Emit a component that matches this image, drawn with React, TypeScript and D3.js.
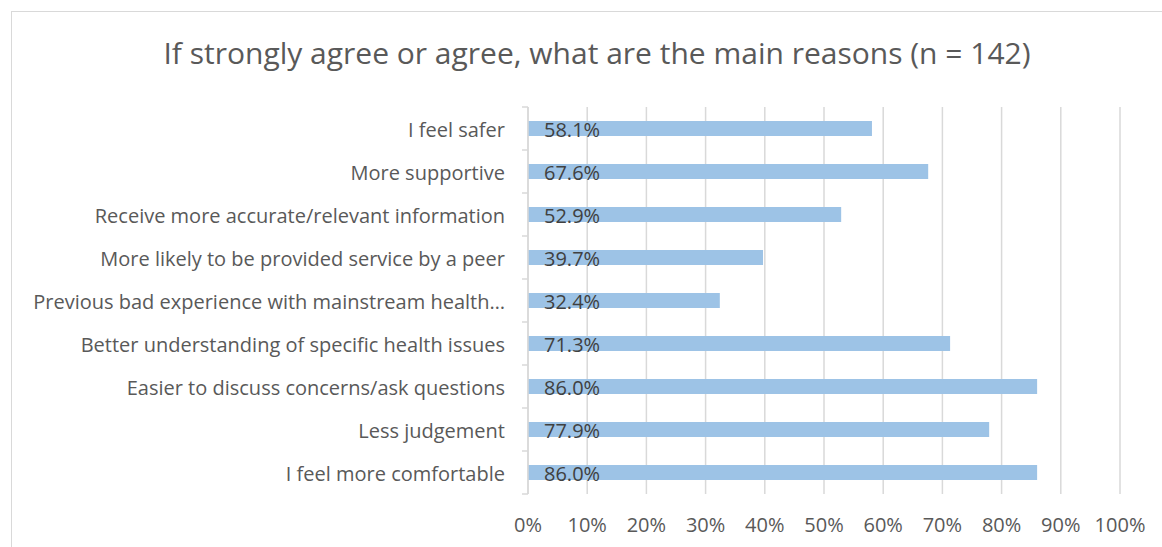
import React from "react";
import * as d3 from "d3";

const categories = [
  "I feel safer",
  "More supportive",
  "Receive more accurate/relevant information",
  "More likely to be provided service by a peer",
  "Previous bad experience with mainstream health…",
  "Better understanding of specific health issues",
  "Easier to discuss concerns/ask questions",
  "Less judgement",
  "I feel more comfortable",
];
const values = [58.1, 67.6, 52.9, 39.7, 32.4, 71.3, 86.0, 77.9, 86.0];
const ticks = [0, 10, 20, 30, 40, 50, 60, 70, 80, 90, 100];
const title = "If strongly agree or agree, what are the main reasons (n = 142)";

const W = 1162;
const H = 547;
const FONT = "'Open Sans', sans-serif";

export default function App() {
  const x = d3.scaleLinear().domain([0, 100]).range([528, 1120]);
  const y = d3.scaleBand<string>().domain(categories).range([107, 494]).paddingInner(0).paddingOuter(0);
  const bh = 15;
  return (
    <div style={{ position: "absolute", left: 0, top: 0 }}>
      <svg width={W} height={H} style={{ display: "block", background: "#fff" }}>
        <rect x={11.5} y={11.5} width={W + 20} height={H + 20} fill="#fff" stroke="#d9d9d9" strokeWidth={1} />
        <text x={597} y={64} textAnchor="middle" fontFamily={FONT} fontSize={30} fill="#595959">
          {title}
        </text>
        {ticks.map((t) => (
          <line key={"g" + t} x1={x(t)} x2={x(t)} y1={107} y2={494} stroke="#d9d9d9" strokeWidth={1.5} />
        ))}
        {categories.map((c, i) => (
          <rect key={"b" + i} x={x(0)} y={y(c)! + y.bandwidth() / 2 - bh / 2} width={x(values[i]) - x(0)} height={bh} fill="#9dc3e6" />
        ))}
        <line x1={x(0)} x2={x(0)} y1={107} y2={494} stroke="#d9d9d9" strokeWidth={1.5} />
        {d3.range(categories.length + 1).map((k) => (
          <line key={"t" + k} x1={x(0) - 6} x2={x(0)} y1={107 + k * y.step()} y2={107 + k * y.step()} stroke="#d9d9d9" strokeWidth={1.5} />
        ))}
        {categories.map((c, i) => (
          <text key={"c" + i} x={505} y={y(c)! + y.bandwidth() / 2 + 8} textAnchor="end" fontFamily={FONT} fontSize={20} fill="#595959">
            {c}
          </text>
        ))}
        {categories.map((c, i) => (
          <text key={"v" + i} x={544} y={y(c)! + y.bandwidth() / 2 + 8} fontFamily={FONT} fontSize={20} fill="#404040">
            {values[i].toFixed(1) + "%"}
          </text>
        ))}
        {ticks.map((t) => (
          <text key={"l" + t} x={x(t)} y={532} textAnchor="middle" fontFamily={FONT} fontSize={20} fill="#595959">
            {t + "%"}
          </text>
        ))}
      </svg>
    </div>
  );
}
